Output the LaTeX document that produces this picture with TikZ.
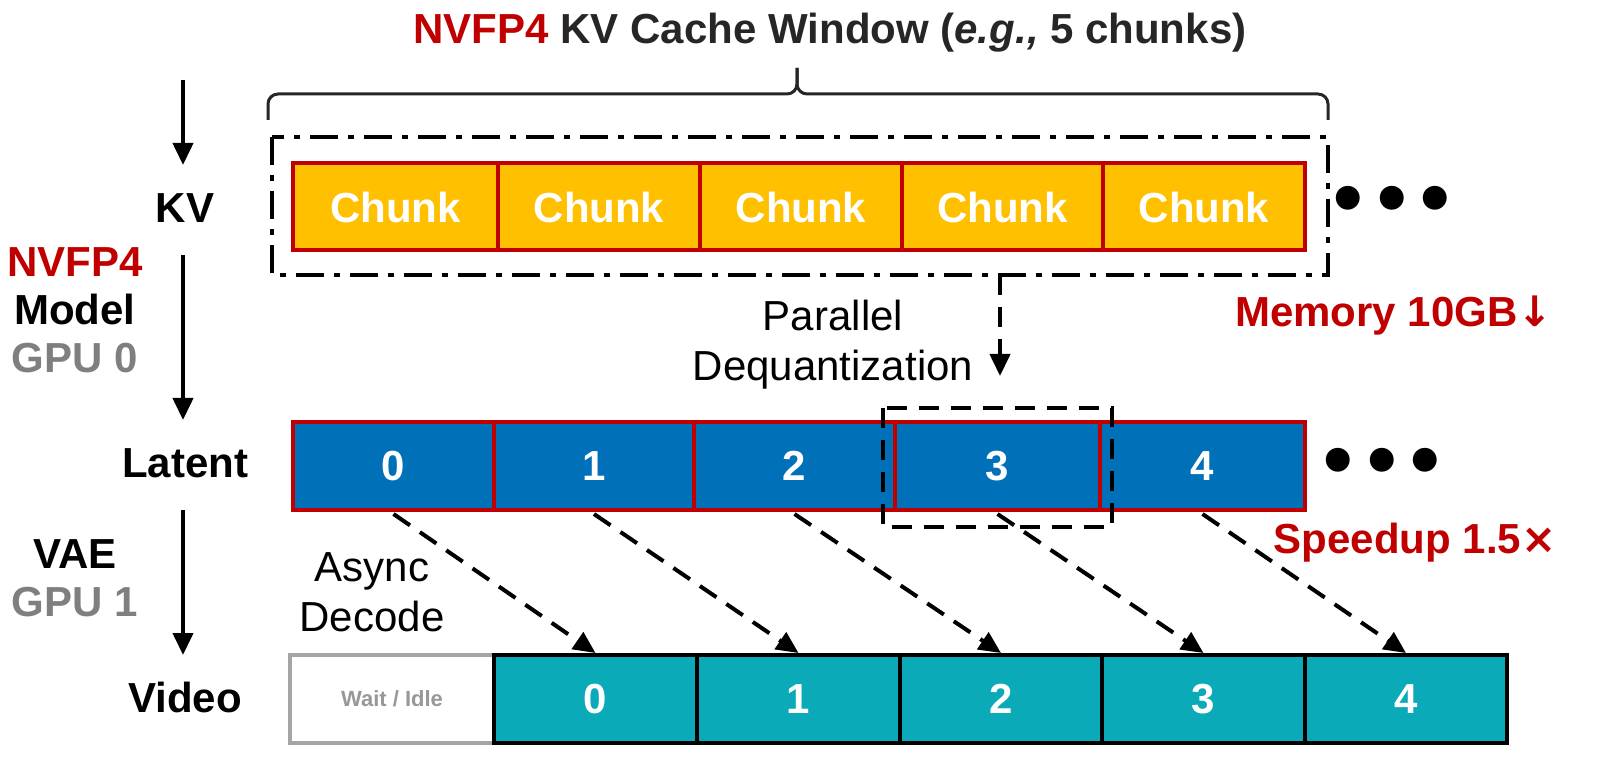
\documentclass[tikz,border=0pt]{standalone}
\usepackage{fontspec}
\setmainfont{Liberation Sans}
\newfontfamily\djv{DejaVu Sans}
\usetikzlibrary{arrows.meta}
\definecolor{dred}{HTML}{C00000}
\definecolor{orng}{HTML}{FFC000}
\definecolor{blu}{HTML}{0070B8}
\definecolor{teal2}{HTML}{0AAAB8}
\definecolor{dgray}{HTML}{262626}
\definecolor{lgray}{HTML}{7F7F7F}
\begin{document}
\begin{tikzpicture}[x=0.5pt,y=-0.5pt,
  chunkbox/.style={draw=dred,line width=2pt,fill=orng,text=white,font=\bfseries\fontsize{21}{24}\selectfont,minimum height=43.5pt,inner sep=0pt},
  latbox/.style={draw=dred,line width=2pt,fill=blu,text=white,font=\bfseries\fontsize{21}{24}\selectfont,minimum height=44pt,inner sep=0pt},
  vidbox/.style={draw=black,line width=2pt,fill=teal2,text=white,font=\bfseries\fontsize{21}{24}\selectfont,minimum height=44pt,inner sep=0pt},
  lbl/.style={font=\bfseries\fontsize{21}{24}\selectfont,align=center},
  flow/.style={-{Triangle[length=11pt,width=10pt]},line width=2pt},
  dflow/.style={-{Triangle[length=11pt,width=10pt]},line width=2pt,dash pattern=on 10pt off 6pt}]
\useasboundingbox (0,0) rectangle (1600,769);
% title
\node[font=\bfseries\fontsize{21}{24}\selectfont,text=dgray] (title) at (830,33) {\textcolor{dred}{NVFP4} KV Cache Window (\textit{e.g.,} 5 chunks)};
% brace
\draw[line width=1.5pt,dgray,rounded corners=5pt] (268,120) -- (268,94) -- (797,94) -- (797,68);
\draw[line width=1.5pt,dgray,rounded corners=5pt] (797,68) -- (797,94) -- (1328,94) -- (1328,120);
% window
\draw[line width=2pt,dash pattern=on 14pt off 5pt on 3pt off 5pt] (272,137) rectangle (1328,275);
% chunks
\foreach \a/\b [count=\i] in {293/498,498/700,700/902,902/1103,1103/1305}
  \node[chunkbox,minimum width={(\b-\a)*0.5pt}] (c\i) at ({(\a+\b)/2},207) {Chunk};
\node[lbl] (dots1) at (1392,205) {\fontsize{34}{34}\selectfont\djv •••};
% latent
\foreach \a/\b [count=\i from 0] in {293/494,494/694,694/895,895/1100,1100/1305}
  \node[latbox,minimum width={(\b-\a)*0.5pt}] (l\i) at ({(\a+\b)/2},466) {\i};
\node[lbl] (dots2) at (1382,467) {\fontsize{34}{34}\selectfont\djv •••};
\draw[line width=2pt,dash pattern=on 10pt off 6pt] (883,408) rectangle (1112,527);
\coordinate (wbot) at (1000,275);
\draw[dflow] (wbot) -- (1000,376);
\node[font=\fontsize{21}{25}\selectfont,align=center] (pd) at (833,345) {Parallel\\Dequantization};
\node[font=\bfseries\fontsize{21}{24}\selectfont,text=dred] (mem) at (1394,316) {Memory 10GB{\djv↓}};
\node[font=\bfseries\fontsize{21}{24}\selectfont,text=dred] (spd) at (1415,543) {Speedup 1.5{\djv×}};
% video
\node[draw=lgray!70,line width=2pt,fill=white,minimum width=102pt,minimum height=44pt,inner sep=0pt,text=lgray!80,font=\bfseries\fontsize{11}{13}\selectfont] (wait) at (392,699) {Wait / Idle};
\foreach \a/\b [count=\i from 0] in {494/697,697/900,900/1102,1102/1305,1305/1507}
  \node[vidbox,minimum width={(\b-\a)*0.5pt}] (v\i) at ({(\a+\b)/2},699) {\i};
\foreach \i in {0,...,4} \draw[dflow] (l\i.south) ++(0,2) -- (v\i.north);
\node[font=\fontsize{21}{25}\selectfont,align=center] (ad) at (372,592) {Async\\Decode};
% left labels
\node[lbl] (kv) at (185,208) {KV};
\node[lbl] (lat) at (185,463) {Latent};
\node[lbl] (vid) at (185,697) {Video};
\node[lbl,align=center] (m) at (75,310) {\textcolor{dred}{NVFP4}\\Model\\\textcolor{lgray}{GPU 0}};
\node[lbl,align=center] (vae) at (75,578) {VAE\\\textcolor{lgray}{GPU 1}};
\coordinate (top) at (183,80);
\draw[flow] (top) -- (183,165);
\draw[flow] (183,255) -- (183,420);
\draw[flow] (183,510) -- (183,655);
\end{tikzpicture}
\end{document}
